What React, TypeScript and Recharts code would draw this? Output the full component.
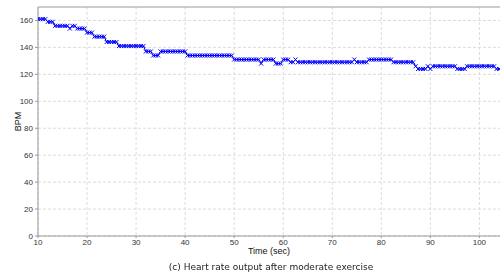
import { CartesianGrid, Line, LineChart, ReferenceLine, XAxis, YAxis } from "recharts";

// heart rate sampled every 0.5 s starting at t = 10 s
const startTime = 10;
const sampleStep = 0.5;

const bpm = [
  161, 161, 161, 161, 159, 159, 159, 156, 156, 156,
  156, 156, 156, 154, 156, 156, 154, 154, 154, 154,
  151, 151, 151, 148, 148, 148, 148, 148, 144, 144,
  144, 144, 144, 141, 141, 141, 141, 141, 141, 141,
  141, 141, 141, 141, 137, 137, 137, 134, 134, 134,
  137, 137, 137, 137, 137, 137, 137, 137, 137, 137,
  137, 134, 134, 134, 134, 134, 134, 134, 134, 134,
  134, 134, 134, 134, 134, 134, 134, 134, 134, 134,
  131, 131, 131, 131, 131, 131, 131, 131, 131, 131,
  131, 128, 131, 131, 131, 131, 131, 128, 128, 128,
  131, 131, 131, 129, 129, 131, 129, 129, 129, 129,
  129, 129, 129, 129, 129, 129, 129, 129, 129, 129,
  129, 129, 129, 129, 129, 129, 129, 129, 129, 131,
  129, 129, 129, 129, 129, 131, 131, 131, 131, 131,
  131, 131, 131, 131, 131, 129, 129, 129, 129, 129,
  129, 129, 129, 129, 126, 124, 124, 124, 124, 126,
  124, 126, 126, 126, 126, 126, 126, 126, 126, 126,
  126, 124, 124, 124, 124, 126, 126, 126, 126, 126,
  126, 126, 126, 126, 126, 126, 126, 124, 124,
];

const xTicks = [10, 20, 30, 40, 50, 60, 70, 80, 90, 100];
const yTicks = [0, 20, 40, 60, 80, 100, 120, 140, 160];

const data = bpm.map((v, i) => ({ time: startTime + i * sampleStep, bpm: v }));

const font = "'Liberation Sans', Arial, sans-serif";
const tickStyle = { fontSize: 8, fill: "#333", fontFamily: font };

function CrossDot(props: any) {
  const { cx, cy } = props;
  if (cx == null || cy == null) return null;
  const r = 2;
  return (
    <g stroke="#0000ff" strokeWidth={1}>
      <line x1={cx - r} y1={cy - r} x2={cx + r} y2={cy + r} />
      <line x1={cx - r} y1={cy + r} x2={cx + r} y2={cy - r} />
    </g>
  );
}

export default function App() {
  return (
    <div style={{ position: "fixed", left: 0, top: 0, width: 500, height: 275, background: "#fff" }}>
      <LineChart width={500} height={275} data={data} margin={{ top: 7, right: 0, bottom: 0, left: 0 }}>
        <CartesianGrid stroke="#dcdcdc" strokeDasharray="3 2" horizontalValues={yTicks} verticalValues={xTicks} />
        <XAxis
          dataKey="time"
          type="number"
          domain={[10, 104.2]}
          allowDataOverflow
          ticks={xTicks}
          height={39}
          tick={tickStyle}
          tickSize={2}
          tickMargin={1}
          stroke="#999"
          label={{ value: "Time (sec)", position: "insideTop", offset: 12, fontSize: 9, fill: "#111", fontFamily: font }}
        />
        <YAxis
          type="number"
          domain={[0, 170]}
          ticks={yTicks}
          width={38}
          tick={tickStyle}
          tickSize={3}
          tickMargin={2}
          stroke="#999"
          label={{ value: "BPM", angle: -90, position: "center", dx: -1, fontSize: 9, fill: "#111", fontFamily: font }}
        />
        <ReferenceLine y={170} stroke="#999" strokeWidth={1} />
        <Line
          dataKey="bpm"
          stroke="#0000ff"
          strokeWidth={1}
          dot={<CrossDot />}
          isAnimationActive={false}
          type="linear"
        />
      </LineChart>
      <div
        style={{
          position: "absolute",
          left: 0,
          width: 542,
          top: 262,
          textAlign: "center",
          fontFamily: "'DejaVu Sans', Verdana, sans-serif",
          fontSize: 9,
          lineHeight: "11px",
          color: "#222",
        }}
      >
        (c) Heart rate output after moderate exercise
      </div>
    </div>
  );
}
